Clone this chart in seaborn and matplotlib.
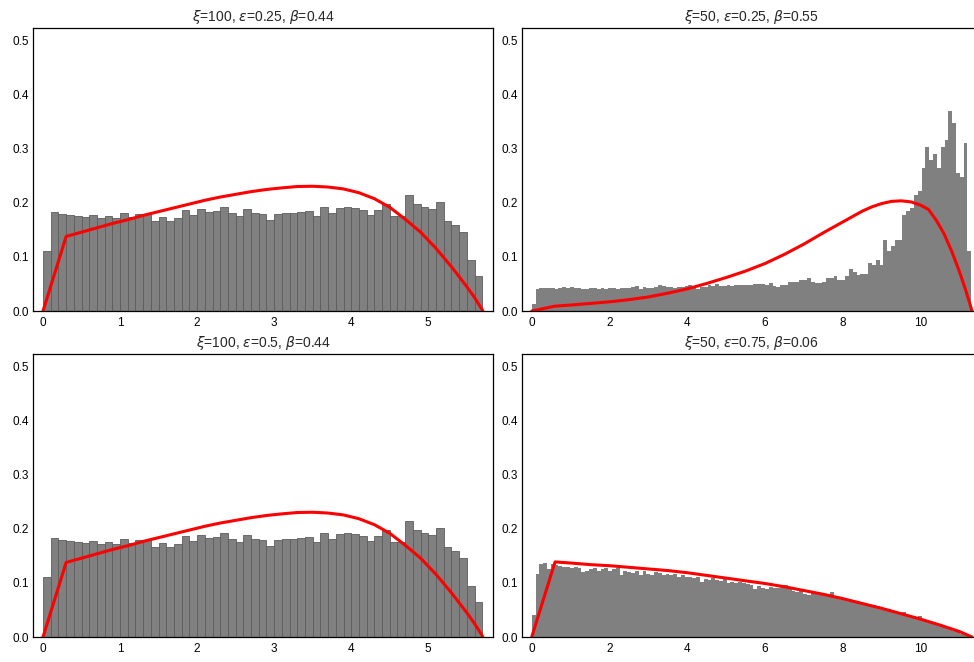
import numpy as np
import pandas as pd
import seaborn as sns
import matplotlib.pyplot as plt

# panel titles
titles = [r"$\xi$=100, $\epsilon$=0.25, $\beta$=0.44",
          r"$\xi$=50, $\epsilon$=0.25, $\beta$=0.55",
          r"$\xi$=100, $\epsilon$=0.5, $\beta$=0.44",
          r"$\xi$=50, $\epsilon$=0.75, $\beta$=0.06"]

# xi = 100 panels (both rows show the same histogram / curve)
hist_xi100_max = 5.7
hist_xi100 = [0.111, 0.183, 0.179, 0.178, 0.175, 0.174, 0.178, 0.1725, 0.176, 0.172,
              0.181, 0.174, 0.179, 0.179, 0.166, 0.174, 0.166, 0.172, 0.1875, 0.178,
              0.189, 0.183, 0.185, 0.1925, 0.182, 0.176, 0.189, 0.181, 0.179, 0.169,
              0.179, 0.181, 0.181, 0.184, 0.186, 0.176, 0.193, 0.181, 0.190, 0.192,
              0.191, 0.187, 0.177, 0.1875, 0.199, 0.176, 0.176, 0.215, 0.198, 0.1925,
              0.189, 0.201, 0.1675, 0.160, 0.147, 0.095, 0.064]
curve_xi100_x = [0, 0.3, 0.5, 0.7, 0.9, 1.1, 1.3, 1.5, 1.7, 1.9, 2.1, 2.3, 2.5, 2.7,
                 2.9, 3.1, 3.3, 3.5, 3.7, 3.9, 4.1, 4.3, 4.5, 4.7, 4.9, 5.1, 5.3,
                 5.5, 5.6, 5.71]
curve_xi100_y = [0, 0.138, 0.146, 0.154, 0.162, 0.169, 0.177, 0.184, 0.191, 0.198,
                 0.205, 0.211, 0.216, 0.221, 0.225, 0.228, 0.2305, 0.231, 0.2295,
                 0.226, 0.219, 0.208, 0.192, 0.170, 0.146, 0.116, 0.082, 0.045,
                 0.025, 0]

# xi = 50, eps = 0.25
hist_b_max = 11.3
hist_b = [0.013,
          0.040, 0.042, 0.043, 0.042, 0.043, 0.041, 0.042, 0.044, 0.043, 0.045,
          0.042, 0.043, 0.040, 0.041, 0.042, 0.043, 0.041, 0.042, 0.041, 0.043,
          0.042, 0.041, 0.042, 0.043, 0.042, 0.044, 0.046, 0.041, 0.044, 0.043,
          0.042, 0.044, 0.049, 0.047, 0.044, 0.045, 0.043, 0.045, 0.044, 0.047,
          0.048, 0.043, 0.040, 0.045, 0.044, 0.048, 0.047, 0.050, 0.047, 0.046,
          0.048, 0.047, 0.049, 0.048, 0.049,
          0.049, 0.049, 0.050, 0.050, 0.050, 0.049, 0.052, 0.046, 0.044, 0.049,
          0.049, 0.053, 0.053, 0.053, 0.058, 0.058, 0.061, 0.054, 0.052, 0.052,
          0.054, 0.061, 0.061, 0.064, 0.058, 0.058, 0.065, 0.078, 0.072, 0.066,
          0.069, 0.069, 0.088, 0.085, 0.094, 0.086, 0.131, 0.111, 0.120, 0.132,
          0.132,
          0.177, 0.186, 0.191, 0.214, 0.223, 0.264, 0.304, 0.279, 0.291, 0.264,
          0.304, 0.317, 0.370, 0.348, 0.256, 0.249, 0.311, 0.111]
curve_b_x = [0, 0.6, 1.0, 1.5, 2.0, 2.5, 3.0, 3.5, 4.0, 4.5, 5.0, 5.5, 6.0, 6.5,
             7.0, 7.5, 8.0, 8.25, 8.5, 8.75, 9.0, 9.25, 9.5, 9.75, 10.0, 10.2,
             10.4, 10.6, 10.8, 11.0, 11.15, 11.32]
curve_b_y = [0, 0.009, 0.011, 0.014, 0.017, 0.021, 0.026, 0.033, 0.041, 0.051,
             0.062, 0.074, 0.088, 0.105, 0.124, 0.145, 0.165, 0.175, 0.185, 0.193,
             0.199, 0.203, 0.204, 0.202, 0.196, 0.188, 0.168, 0.143, 0.110, 0.072,
             0.040, 0]

# xi = 50, eps = 0.75
hist_d_max = 11.3
hist_d = [0.041, 0.117, 0.135, 0.137, 0.125, 0.135, 0.134, 0.131, 0.130, 0.129,
          0.128, 0.130, 0.127, 0.120, 0.123, 0.125, 0.127, 0.123, 0.126, 0.127,
          0.123, 0.125, 0.127, 0.115, 0.123, 0.120, 0.119, 0.122, 0.114, 0.122,
          0.117, 0.114, 0.120, 0.119, 0.115, 0.117, 0.114, 0.117, 0.112, 0.114,
          0.111, 0.112, 0.110, 0.112, 0.102, 0.108, 0.106, 0.109, 0.106, 0.104,
          0.107, 0.100, 0.102, 0.100, 0.102, 0.100, 0.098, 0.096, 0.089, 0.094,
          0.091, 0.088, 0.092, 0.091, 0.090, 0.092, 0.096, 0.092, 0.086, 0.083,
          0.086, 0.080, 0.077, 0.081, 0.080, 0.078, 0.077, 0.075, 0.083, 0.073,
          0.071, 0.070, 0.069, 0.068, 0.066, 0.065, 0.061, 0.060, 0.057, 0.059,
          0.057, 0.055, 0.054, 0.051, 0.049, 0.046, 0.043, 0.046, 0.038, 0.036,
          0.034, 0.038, 0.031, 0.029, 0.026, 0.024, 0.021, 0.020, 0.021, 0.015,
          0.012, 0.009, 0.006, 0.004, 0.002]
curve_d_x = [0, 0.6, 1.0, 1.5, 2.0, 2.5, 3.0, 3.5, 4.0, 4.5, 5.0, 5.5, 6.0, 6.5,
             7.0, 7.5, 8.0, 8.5, 9.0, 9.5, 10.0, 10.5, 11.0, 11.32]
curve_d_y = [0, 0.139, 0.137, 0.134, 0.132, 0.129, 0.126, 0.123, 0.119, 0.114,
             0.109, 0.104, 0.099, 0.093, 0.086, 0.079, 0.071, 0.062, 0.053, 0.043,
             0.033, 0.022, 0.010, 0]

sns.set_style("white")
plt.rcParams["font.family"] = ["Liberation Sans", "DejaVu Sans"]
plt.rcParams["mathtext.fontset"] = "dejavusans"
plt.rcParams["axes.edgecolor"] = "black"
plt.rcParams["axes.linewidth"] = 0.9
plt.rcParams["xtick.major.size"] = 0
plt.rcParams["ytick.major.size"] = 0

fig = plt.figure(figsize=(9.74, 6.62), dpi=100)
W, H = 974, 662


def panel(px_left, px_right, px_top, px_bottom):
    return fig.add_axes([px_left / W, 1 - px_bottom / H,
                         (px_right - px_left) / W, (px_bottom - px_top) / H])


panels = [
    (panel(33, 493, 28, 311), hist_xi100, hist_xi100_max, curve_xi100_x, curve_xi100_y, True),
    (panel(522, 981, 28, 311), hist_b, hist_b_max, curve_b_x, curve_b_y, False),
    (panel(33, 493, 354, 637), hist_xi100, hist_xi100_max, curve_xi100_x, curve_xi100_y, True),
    (panel(522, 981, 354, 637), hist_d, hist_d_max, curve_d_x, curve_d_y, False),
]

for (ax, heights, xmax, cx, cy, wide), title in zip(panels, titles):
    n = len(heights)
    step = xmax / n
    df = pd.DataFrame({"x": (np.arange(n) + 0.5) * step, "w": heights})
    kw = dict(edgecolor="#5c5c5c", linewidth=0.6) if wide else dict(linewidth=0)
    sns.histplot(data=df, x="x", weights="w", bins=n, binrange=(0, xmax), ax=ax,
                 color="#808080", alpha=1, **kw)
    sns.lineplot(x=cx, y=cy, ax=ax, color="red", linewidth=2.2, sort=False)
    ax.set_ylim(0, 0.524)
    if wide:
        ax.set_xlim(-0.13, 5.84)
        ax.set_xticks(range(0, 6))
    else:
        ax.set_xlim(-0.25, 11.55)
        ax.set_xticks(range(0, 11, 2))
    ax.set_yticks([0, 0.1, 0.2, 0.3, 0.4, 0.5])
    ax.set_yticklabels(["0.0", "0.1", "0.2", "0.3", "0.4", "0.5"])
    ax.set_xlabel("")
    ax.set_ylabel("")
    ax.tick_params(labelsize=8.5, colors="black", pad=3)
    ax.tick_params(axis="x", pad=4)
    ax.set_title(title, fontsize=10, pad=5)
    for s in ax.spines.values():
        s.set_visible(True)
        s.set_color("black")

fig.savefig("out.png", dpi=100)
